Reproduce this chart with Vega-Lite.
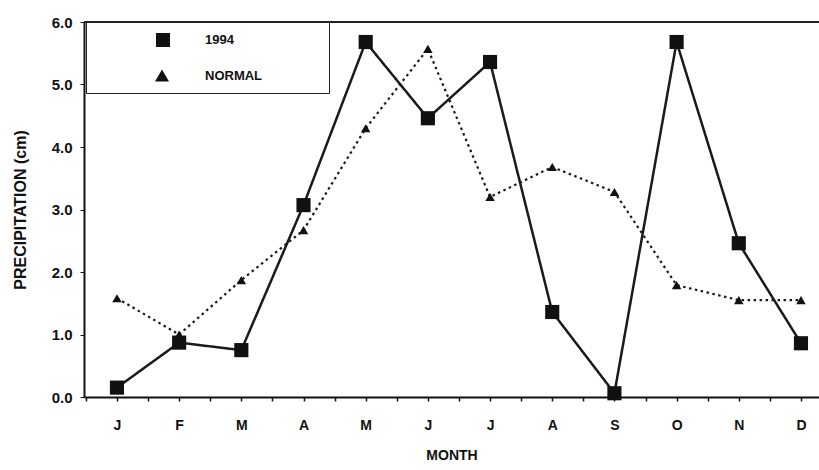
{
  "$schema": "https://vega.github.io/schema/vega-lite/v6.json",
  "width": 735,
  "height": 375,
  "autosize": {"type": "none"},
  "padding": {"left": 84, "top": 22, "right": 0, "bottom": 73},
  "background": "white",
  "config": {
    "view": {"stroke": null},
    "font": "Liberation Sans",
    "axis": {
      "labelFont": "Liberation Sans",
      "titleFont": "Liberation Sans",
      "labelFontWeight": "bold",
      "titleFontWeight": "bold",
      "labelColor": "#111",
      "titleColor": "#111",
      "domainColor": "#111",
      "tickColor": "#111",
      "grid": false
    }
  },
  "data": {
    "values": [
      {"m": 1, "series": "NORMAL", "p": 1.58},
      {"m": 2, "series": "NORMAL", "p": 1.0},
      {"m": 3, "series": "NORMAL", "p": 1.87},
      {"m": 4, "series": "NORMAL", "p": 2.67},
      {"m": 5, "series": "NORMAL", "p": 4.3},
      {"m": 6, "series": "NORMAL", "p": 5.57},
      {"m": 7, "series": "NORMAL", "p": 3.2},
      {"m": 8, "series": "NORMAL", "p": 3.68},
      {"m": 9, "series": "NORMAL", "p": 3.28},
      {"m": 10, "series": "NORMAL", "p": 1.79},
      {"m": 11, "series": "NORMAL", "p": 1.55},
      {"m": 12, "series": "NORMAL", "p": 1.55},
      {"m": 1, "series": "1994", "p": 0.15},
      {"m": 2, "series": "1994", "p": 0.87},
      {"m": 3, "series": "1994", "p": 0.75},
      {"m": 4, "series": "1994", "p": 3.07},
      {"m": 5, "series": "1994", "p": 5.68},
      {"m": 6, "series": "1994", "p": 4.46},
      {"m": 7, "series": "1994", "p": 5.36},
      {"m": 8, "series": "1994", "p": 1.36},
      {"m": 9, "series": "1994", "p": 0.06},
      {"m": 10, "series": "1994", "p": 5.68},
      {"m": 11, "series": "1994", "p": 2.46},
      {"m": 12, "series": "1994", "p": 0.86}
    ]
  },
  "encoding": {
    "x": {
      "field": "m",
      "type": "quantitative",
      "scale": {"domain": [0.47, 12.29], "nice": false, "zero": false},
      "axis": {
        "title": "MONTH",
        "titleFontSize": 14,
        "titlePadding": 16,
        "labelFontSize": 14,
        "labelPadding": 17,
        "values": [0.5, 1, 1.5, 2, 2.5, 3, 3.5, 4, 4.5, 5, 5.5, 6, 6.5, 7, 7.5, 8, 8.5, 9, 9.5, 10, 10.5, 11, 11.5, 12],
        "labelExpr": "datum.value % 1 === 0 ? ['','J','F','M','A','M','J','J','A','S','O','N','D'][datum.value] : ''",
        "tickSize": 4,
        "tickWidth": 1.5,
        "domainWidth": 2,
        "labelFlush": false
      }
    },
    "y": {
      "field": "p",
      "type": "quantitative",
      "scale": {"domain": [0, 6], "nice": false},
      "axis": {
        "title": "PRECIPITATION (cm)",
        "titleFontSize": 16,
        "titlePadding": 23,
        "labelFontSize": 15,
        "labelPadding": 8,
        "values": [0, 1, 2, 3, 4, 5, 6],
        "format": ".1f",
        "tickSize": 4,
        "domainWidth": 2
      }
    }
  },
  "resolve": {
    "scale": {"shape": "independent", "strokeDash": "independent"},
    "legend": {"shape": "independent", "strokeDash": "independent"}
  },
  "layer": [
    {
      "mark": {"type": "rule", "color": "#222", "strokeWidth": 2},
      "encoding": {"y": {"datum": 6}, "x": null}
    },
    {
      "mark": {"type": "line", "color": "#1a1a1a"},
      "encoding": {
        "strokeDash": {
          "field": "series",
          "type": "nominal",
          "scale": {"domain": ["1994", "NORMAL"], "range": [[1, 0], [2.5, 3.5]]},
          "legend": null
        },
        "strokeWidth": {
          "field": "series",
          "type": "nominal",
          "scale": {"domain": ["1994", "NORMAL"], "range": [2.5, 2.2]},
          "legend": null
        }
      }
    },
    {
      "mark": {"type": "point", "filled": true, "opacity": 1, "color": "#111"},
      "encoding": {
        "shape": {
          "field": "series",
          "type": "nominal",
          "scale": {"domain": ["1994", "NORMAL"], "range": ["square", "triangle-up"]},
          "legend": null
        },
        "size": {
          "field": "series",
          "type": "nominal",
          "scale": {"domain": ["1994", "NORMAL"], "range": [200, 90]},
          "legend": null
        },
        "order": {"field": "series", "sort": "descending"}
      }
    },
    {
      "transform": [{"filter": "false"}],
      "mark": {"type": "point", "filled": false, "fill": "#111", "stroke": "#111", "strokeWidth": 2},
      "encoding": {
        "shape": {
          "field": "series",
          "type": "nominal",
          "scale": {"domain": ["1994", "NORMAL"], "range": ["M2.1,0L9.6,0M5.2,-0.7L6.6,-0.7L6.6,0.7L5.2,0.7ZM21.4,0", "M2.1,0L9.6,0M5.8,-0.65L6.5,0.55L5.1,0.55ZM21.4,0"]},
          "legend": {
            "title": null,
            "orient": "none",
            "legendX": 2,
            "legendY": 0,
            "padding": 7,
            "strokeColor": "#222",
            "fillColor": "white",
            "symbolSize": 400,
            "symbolStrokeWidth": 2,
            "symbolOpacity": 1,
            "symbolFillColor": "#111",
            "symbolStrokeColor": "#111",
            "rowPadding": 14,
            "labelOffset": 90,
            "labelFont": "Liberation Sans",
            "labelFontSize": 13,
            "labelFontWeight": "bold",
            "labelColor": "#111"
          }
        },
        "strokeDash": {
          "field": "series",
          "type": "nominal",
          "scale": {"domain": ["1994", "NORMAL"], "range": [[1, 0], [2.5, 3.5]]}
        }
      }
    }
  ]
}
